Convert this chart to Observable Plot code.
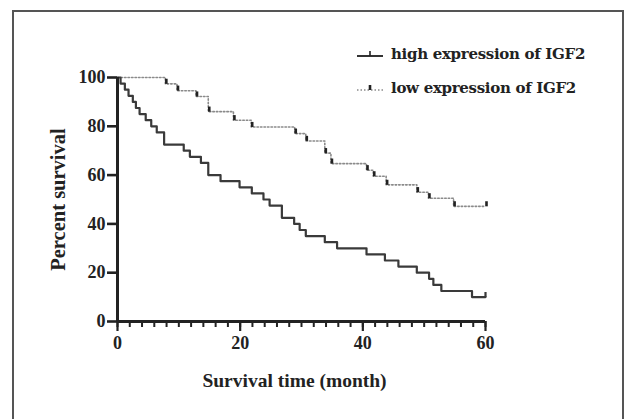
<!DOCTYPE html>
<html>
<head>
<meta charset="utf-8">
<script src="https://cdn.jsdelivr.net/npm/d3@7"></script>
<script src="https://cdn.jsdelivr.net/npm/@observablehq/plot@0.6"></script>
<style>
html, body { margin: 0; padding: 0; background: #fff; }
#wrap { position: relative; width: 626px; height: 419px; overflow: hidden; background: #fff; }
#frame { position: absolute; left: 12px; top: 10px; width: 612px; height: 430px; border: 2px solid #555; box-sizing: border-box; }
#chart { position: absolute; left: 0; top: 0; }
#chart g[aria-label$="tick label"], #chart g[aria-label$="tick label"] text { font-size: 18px !important; }
#legend { position: absolute; left: 357px; top: 37px; font-family: "DejaVu Serif", serif; font-weight: bold; font-size: 15px; letter-spacing: -0.3px; color: #222; }
.item { display: flex; align-items: center; height: 34px; }
.item svg { margin-right: 8px; }
</style>
</head>
<body>
<div id="wrap">
  <div id="frame"></div>
  <div id="chart"></div>
  <div id="legend"></div>
</div>
<script>
// Series: high expression of IGF2 (solid)
const highTime = [0, 0.5, 1.2, 1.8, 2.5, 3.0, 3.6, 4.6, 5.5, 6.4, 7.6, 10.8, 11.8, 13.6, 14.8, 16.8, 19.9, 21.9, 23.8, 24.8, 26.8, 28.8, 29.7, 30.7, 33.8, 35.8, 40.6, 43.6, 45.8, 48.8, 50.8, 51.5, 52.8, 57.8, 60];
const highSurv = [100, 97.5, 95, 92.5, 90, 87.5, 85, 82.5, 80, 77.5, 72.5, 70, 67.5, 65, 60, 57.5, 55, 52.5, 50, 47.5, 42.5, 40, 37.5, 35, 32.5, 30, 27.5, 25, 22.5, 20, 17.5, 15, 12.5, 10, 10];
// Series: low expression of IGF2 (dotted)
const lowTime = [0, 7.8, 9.7, 12.8, 14.8, 18.9, 21.8, 28.9, 30.7, 33.8, 34.8, 40.6, 41.7, 43.8, 48.8, 50.7, 54.8, 60];
const lowSurv = [100, 97.4, 94.6, 92.2, 86, 82.5, 79.7, 77, 74, 69, 64.7, 62, 59.5, 56, 53, 50.5, 47.2, 47.2];
// Censor marks
const highCensorTime = [60];
const highCensorSurv = [10];
const lowCensorTime = [7.8, 9.7, 12.8, 14.8, 18.9, 21.8, 28.9, 30.7, 33.8, 34.8, 40.6, 41.7, 43.8, 48.8, 50.7, 54.8, 60];
const lowCensorSurv = [97.4, 94.6, 92.2, 86, 82.5, 79.7, 77, 74, 69, 64.7, 62, 59.5, 56, 53, 50.5, 47.2, 47.2];

const seriesNames = ["high expression of IGF2", "low expression of IGF2"];
const xMajorTicks = [0, 20, 40, 60];
const xMinorTicks = d3.range(0, 61, 2);
const yTicks = [0, 20, 40, 60, 80, 100];
const xTitle = "Survival time (month)";
const yTitle = "Percent survival";

const highData = highTime.map((t, i) => ({t, s: highSurv[i]}));
const lowData = lowTime.map((t, i) => ({t, s: lowSurv[i]}));
const highCensor = highCensorTime.map((t, i) => ({t, s: highCensorSurv[i]}));
const lowCensor = lowCensorTime.map((t, i) => ({t, s: lowCensorSurv[i]}));

const tickUp = {
  draw(ctx, size) {
    const r = Math.sqrt(size / Math.PI);
    ctx.moveTo(0, 0);
    ctx.lineTo(0, -r * 1.7);
  }
};

const serif = "'Liberation Serif', 'Times New Roman', serif";

const chart = Plot.plot({
  width: 626,
  height: 419,
  marginLeft: 117,
  marginRight: 141,
  marginTop: 77,
  marginBottom: 98,
  x: {domain: [0, 60], label: null},
  y: {domain: [0, 100], label: null},
  style: {background: "transparent", color: "#222", fontFamily: serif, fontWeight: "bold", fontSize: "18px", overflow: "visible"},
  marks: [
    Plot.line(lowData, {x: "t", y: "s", curve: "step-after", stroke: "#8a8a8a", strokeWidth: 1.6, strokeDasharray: "1.5,2"}),
    Plot.dot(lowCensor, {x: "t", y: "s", symbol: tickUp, r: 3, fill: "none", stroke: "#222", strokeWidth: 2.6, dx: 1}),
    Plot.line(highData, {x: "t", y: "s", curve: "step-after", stroke: "#3a3a3a", strokeWidth: 2.2}),
    Plot.dot(highCensor, {x: "t", y: "s", symbol: tickUp, r: 3, fill: "none", stroke: "#3a3a3a", strokeWidth: 2.2}),
    Plot.axisX({ticks: xMinorTicks, tickSize: 6, tickFormat: () => "", strokeWidth: 2, stroke: "#222", label: null}),
    Plot.axisX({ticks: xMajorTicks, tickSize: 10, tickPadding: 5, strokeWidth: 2.2, stroke: "#222", label: null, fontSize: 18}),
    Plot.axisY({ticks: yTicks, tickSize: 10, tickPadding: 2, strokeWidth: 2.6, stroke: "#222", label: null, fontSize: 18}),
    Plot.ruleX([0], {stroke: "#222", strokeWidth: 3}),
    Plot.ruleY([0], {stroke: "#222", strokeWidth: 3}),
    Plot.text([yTitle], {frameAnchor: "left", textAnchor: "middle", lineAnchor: "middle", dx: -59, rotate: -90, fontSize: 20.5, fontWeight: "bold", fill: "#222"}),
    Plot.text([xTitle], {frameAnchor: "bottom", textAnchor: "middle", lineAnchor: "middle", dx: -7, dy: 59, fontSize: 19.5, fontWeight: "bold", fill: "#222"})
  ]
});
document.getElementById("chart").appendChild(chart);

// Legend
const legend = document.getElementById("legend");
seriesNames.forEach((name, i) => {
  const item = document.createElement("div");
  item.className = "item";
  const ns = "http://www.w3.org/2000/svg";
  const sw = document.createElementNS(ns, "svg");
  sw.setAttribute("width", 26); sw.setAttribute("height", 12);
  const ln = document.createElementNS(ns, "line");
  ln.setAttribute("x1", 0); ln.setAttribute("x2", 26); ln.setAttribute("y1", 8); ln.setAttribute("y2", 8);
  if (i === 0) { ln.setAttribute("stroke", "#333"); ln.setAttribute("stroke-width", 2); }
  else { ln.setAttribute("stroke", "#8a8a8a"); ln.setAttribute("stroke-width", 1.6); ln.setAttribute("stroke-dasharray", "1.5,2"); }
  sw.appendChild(ln);
  const tk = document.createElementNS(ns, "line");
  tk.setAttribute("x1", 13); tk.setAttribute("x2", 13); tk.setAttribute("y1", 8); tk.setAttribute("y2", 3);
  tk.setAttribute("stroke", "#222"); tk.setAttribute("stroke-width", i === 0 ? 1.6 : 2.6);
  sw.appendChild(tk);
  item.appendChild(sw);
  const tx = document.createElement("span");
  tx.textContent = name;
  item.appendChild(tx);
  legend.appendChild(item);
});
</script>
</body>
</html>
